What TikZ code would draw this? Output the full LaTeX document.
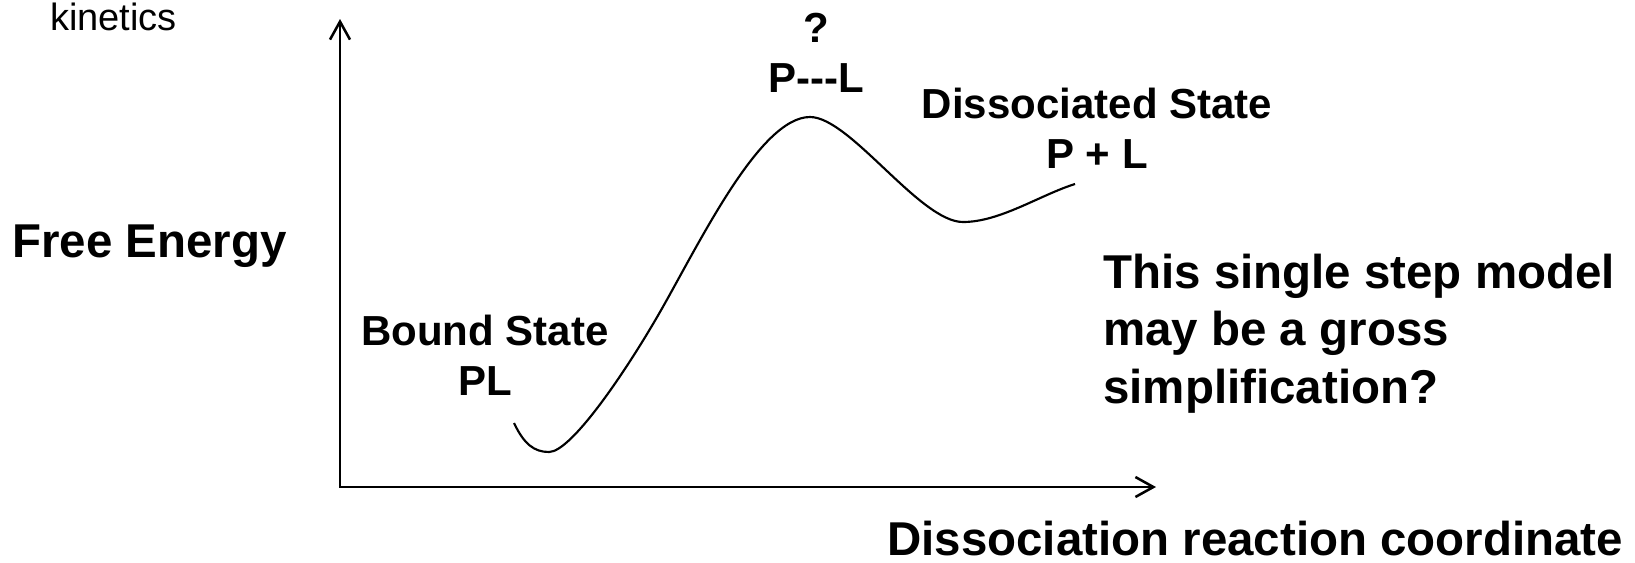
\documentclass[tikz,border=0pt]{standalone}
\usepackage{fontspec}
\setmainfont{Liberation Sans}
\usetikzlibrary{arrows.meta}

\begin{document}
\begin{tikzpicture}[x=0.75pt,y=-0.75pt,
  axis/.style={line width=1.9pt,{Straight Barb[length=13.5pt,width=15pt]}-{Straight Barb[length=13.5pt,width=15pt]}},
  statelbl/.style={font=\bfseries\fontsize{31.5}{37.5}\selectfont,inner sep=0pt,align=center,anchor=base},
  bigtxt/.style={font=\bfseries\fontsize{35.6}{43.1}\selectfont,inner sep=0pt,anchor=base west}]
  \useasboundingbox (0,0) rectangle (1635,562);
  % axes
  \coordinate (ytip) at (340,19);
  \coordinate (origin) at (340,487);
  \coordinate (xtip) at (1156,487);
  \draw[axis] (ytip) -- (origin) -- (xtip);
  % energy profile
  \draw[line width=1.6pt] (514,423) .. controls (524,444) and (534,452) .. (549,452)
    .. controls (571,452) and (625,373) .. (660,312)
    .. controls (700,242) and (760,117) .. (810,117)
    .. controls (850,117) and (920,222) .. (963,222)
    .. controls (1000,222) and (1040,195) .. (1075,184);
  % labels (base = last line)
  \node[inner sep=0pt,anchor=base west,font=\fontsize{28.5}{33}\selectfont] (kin) at (50,30) {kinetics};
  \node[bigtxt] (yname) at (12,257) {Free Energy};
  \node[bigtxt] (xname) at (887,555) {Dissociation reaction coordinate};
  \node[statelbl] (bound) at (485,395) {Bound State\\PL};
  \node[statelbl] (trans) at (816,92) {?\\P-{}-{}-L};
  \node[statelbl] (free) at (1097,168) {Dissociated State\\P + L};
  \node[bigtxt,align=left] (note) at (1103,403) {This single step model\\may be a gross\\simplification?};
\end{tikzpicture}
\end{document}
